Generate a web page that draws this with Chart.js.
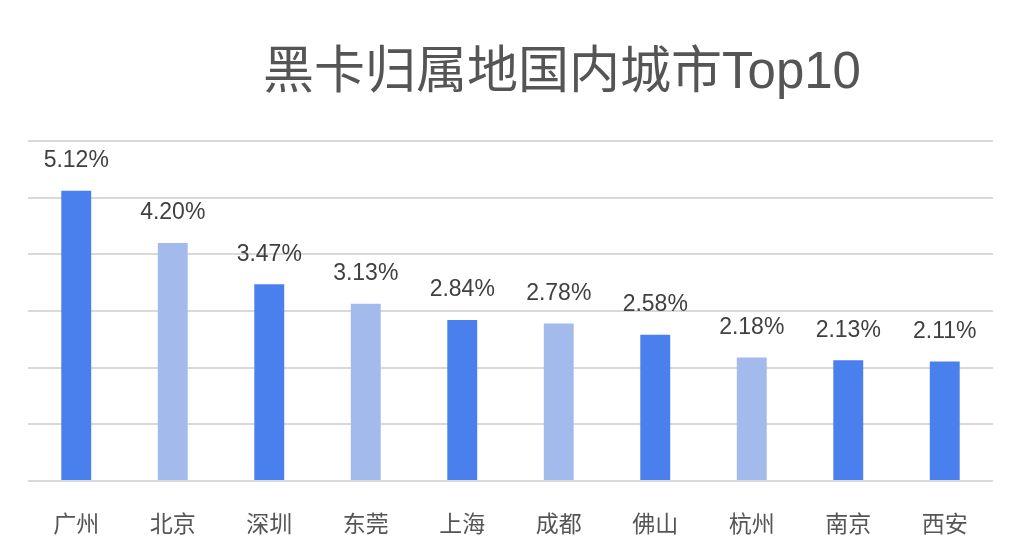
<!DOCTYPE html>
<html>
<head>
<meta charset="utf-8">
<script src="https://cdn.jsdelivr.net/npm/chart.js@4/dist/chart.umd.min.js"></script>
<style>
  html, body { margin: 0; padding: 0; background: #fff; }
  #wrap { width: 1020px; height: 560px; }
</style>
</head>
<body>
<div id="wrap"><canvas id="topChart"></canvas></div>
<script>
// chart data
const cities = ['广州', '北京', '深圳', '东莞', '上海', '成都', '佛山', '杭州', '南京', '西安'];
const shares = [5.12, 4.20, 3.47, 3.13, 2.84, 2.78, 2.58, 2.18, 2.13, 2.11];
const barShade = ['dark', 'light', 'dark', 'light', 'dark', 'light', 'dark', 'light', 'dark', 'dark'];
const chartTitle = '黑卡归属地国内城市Top10';

const FONT = "'Liberation Sans', 'Noto Sans CJK SC', sans-serif";
const shadeColors = { dark: '#4a7fee', light: '#a3bbec' };

// title drawn a bit right of centre, like the original
const titlePlugin = {
  id: 'offsetTitle',
  afterDraw(chart) {
    const ctx = chart.ctx;
    ctx.save();
    ctx.font = '51px ' + FONT;
    ctx.fillStyle = '#555555';
    ctx.textAlign = 'center';
    ctx.textBaseline = 'middle';
    ctx.fillText(chartTitle, 562, 74);
    ctx.restore();
  }
};

// percentage above each bar
const valueLabels = {
  id: 'valueLabels',
  afterDatasetsDraw(chart) {
    const ctx = chart.ctx;
    const meta = chart.getDatasetMeta(0);
    ctx.save();
    ctx.font = '23px ' + FONT;
    ctx.fillStyle = '#404040';
    ctx.textAlign = 'center';
    ctx.textBaseline = 'middle';
    meta.data.forEach((bar, i) => {
      ctx.fillText(shares[i].toFixed(2) + '%', bar.x, bar.y - 30);
    });
    ctx.restore();
  }
};

const ctx = document.getElementById('topChart').getContext('2d');
new Chart(ctx, {
  type: 'bar',
  data: {
    labels: cities,
    datasets: [{
      data: shares,
      backgroundColor: barShade.map(s => shadeColors[s]),
      barPercentage: 0.62,
      categoryPercentage: 0.5
    }]
  },
  options: {
    responsive: true,
    maintainAspectRatio: false,
    animation: false,
    layout: {
      padding: { left: 28, right: 27, top: 141, bottom: 0 }
    },
    scales: {
      y: {
        min: 0,
        max: 6,
        ticks: { display: false, stepSize: 1 },
        border: { display: false },
        grid: { color: '#d9d9d9', lineWidth: 2, drawTicks: false }
      },
      x: {
        grid: { display: false, drawTicks: false },
        border: { display: false },
        afterFit(scale) { scale.height = 79; },
        ticks: {
          padding: 28,
          color: '#555555',
          font: { family: "'Noto Sans CJK SC', sans-serif", size: 23 }
        }
      }
    },
    plugins: {
      legend: { display: false },
      tooltip: { enabled: false }
    }
  },
  plugins: [titlePlugin, valueLabels]
});
</script>
</body>
</html>
